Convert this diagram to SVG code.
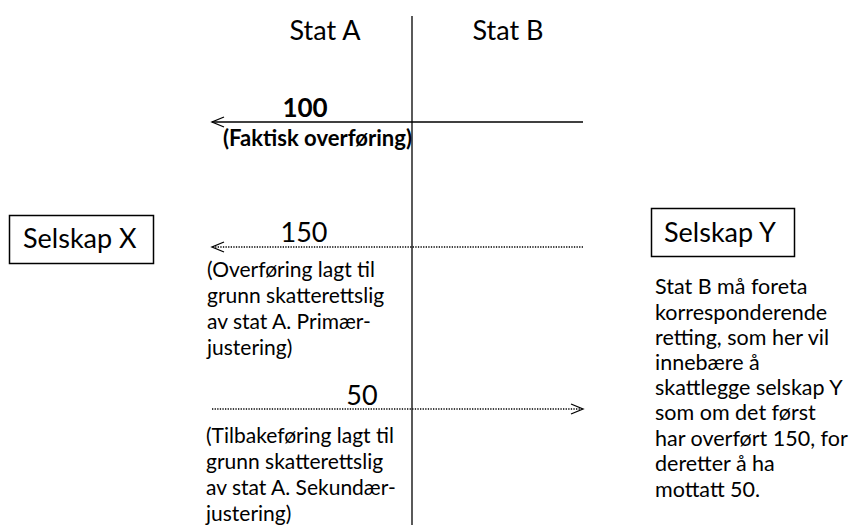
<svg xmlns="http://www.w3.org/2000/svg" width="849" height="525" viewBox="0 0 849 525">
<style>
text{font-family:Lato,"Liberation Sans",sans-serif;fill:#000}
.t{font-size:27px}
.p{font-size:21px}
.r{font-size:21.5px}
.b{font-weight:bold}
.box{fill:#fff;stroke:#000;stroke-width:1.5}
.ln{stroke:#000;stroke-width:1.3;fill:none}
.dot{stroke:#000;stroke-width:1.3;fill:none;stroke-dasharray:1.3 1.3}
.head{stroke:#000;stroke-width:1.3;fill:none}
</style>
<rect width="849" height="525" fill="#fff"/>
<g id="connectors">
<line class="ln" x1="412" y1="16" x2="412" y2="525"/>
<line class="ln" x1="583" y1="122" x2="212" y2="122"/>
<polyline class="head" points="224,117 212,122 224,127"/>
<line class="dot" x1="583" y1="247" x2="213" y2="247"/>
<polyline class="head" points="224,242 212,247 224,252"/>
<line class="dot" x1="212" y1="409" x2="582" y2="409"/>
<polyline class="head" points="571,404 583,409 571,414"/>
</g>
<g id="headers">
<text class="t" x="325" y="40" text-anchor="middle">Stat A</text>
<text class="t" x="508" y="40" text-anchor="middle">Stat B</text>
</g>
<g id="label100">
<text class="b" x="305" y="117" text-anchor="middle" font-size="26">100</text>
<text class="b" x="223" y="146" font-size="22" textLength="189" lengthAdjust="spacingAndGlyphs">(Faktisk overføring)</text>
</g>
<g id="label150">
<text class="t" x="304" y="242" text-anchor="middle">150</text>
<text class="p" x="207"><tspan x="207" y="277">(Overføring lagt til</tspan><tspan x="207" y="303">grunn skatterettslig</tspan><tspan x="207" y="329">av stat A. Primær-</tspan><tspan x="207" y="355">justering)</tspan></text>
</g>
<g id="label50">
<text class="t" x="362" y="405" text-anchor="middle">50</text>
<text class="p" x="206"><tspan x="206" y="443">(Tilbakeføring lagt til</tspan><tspan x="206" y="469">grunn skatterettslig</tspan><tspan x="206" y="495">av stat A. Sekundær-</tspan><tspan x="206" y="521">justering)</tspan></text>
</g>
<g id="selskapX">
<rect class="box" x="9.5" y="215.5" width="144" height="48"/>
<text class="t" x="23" y="248" font-size="26.5">Selskap X</text>
</g>
<g id="selskapY">
<rect class="box" x="651.5" y="208.5" width="143" height="48"/>
<text class="t" x="664" y="242">Selskap Y</text>
</g>
<g id="noteB">
<text class="r" x="655"><tspan x="655" y="294">Stat B må foreta</tspan><tspan x="655" y="320">korresponderende</tspan><tspan x="655" y="345">retting, som her vil</tspan><tspan x="655" y="370">innebære å</tspan><tspan x="655" y="395">skattlegge selskap Y</tspan><tspan x="655" y="420">som om det først</tspan><tspan x="655" y="446">har overført 150, for</tspan><tspan x="655" y="471">deretter å ha</tspan><tspan x="655" y="497">mottatt 50.</tspan></text>
</g>
</svg>
